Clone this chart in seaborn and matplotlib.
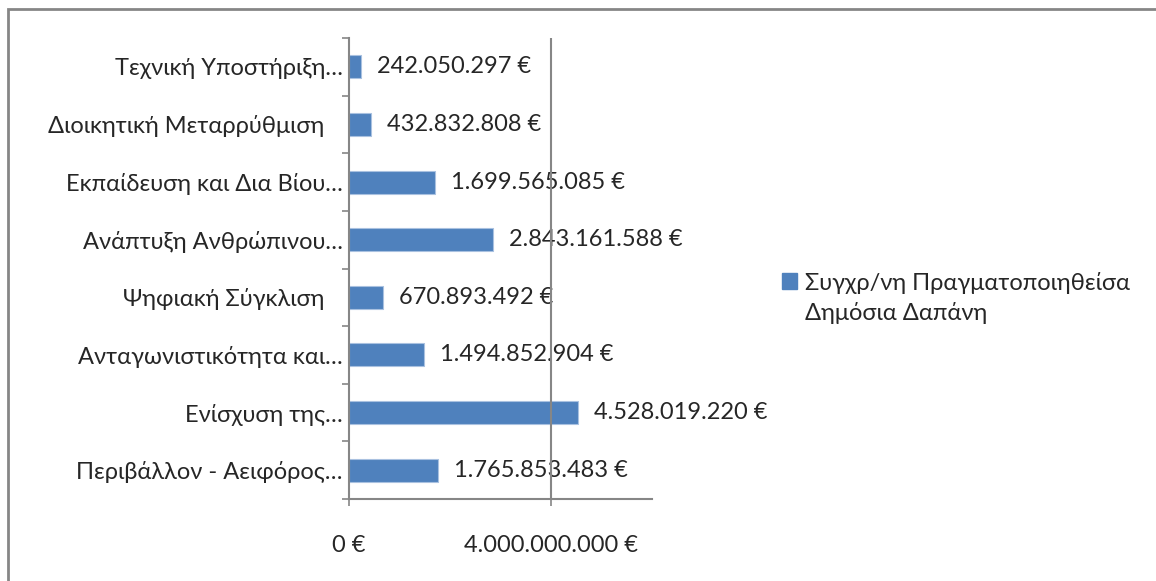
import matplotlib
matplotlib.use('Agg')
import matplotlib.pyplot as plt
import matplotlib.ticker as mticker
from matplotlib.patches import Patch, Rectangle
from matplotlib.legend_handler import HandlerPatch
import numpy as np
import pandas as pd
import seaborn as sns

categories = [
    'Τεχνική Υποστήριξη…',
    'Διοικητική Μεταρρύθμιση   ',
    'Εκπαίδευση και Δια Βίου…',
    'Ανάπτυξη Ανθρώπινου…',
    'Ψηφιακή Σύγκλιση   ',
    'Ανταγωνιστικότητα και…',
    'Ενίσχυση της…',
    'Περιβάλλον - Αειφόρος…',
]
values = [242050297, 432832808, 1699565085, 2843161588,
          670893492, 1494852904, 4528019220, 1765853483]
series_name = 'Συγχρ/νη Πραγματοποιηθείσα\nΔημόσια Δαπάνη'
x_ticks = [0, 4000000000]

BLUE = '#4F81BD'
GREY = '#868686'
FS = 17
LINESP = 1.45


def euro(v, pos=None):
    return f'{int(v):,}'.replace(',', '.') + ' €'


def top_line_patch(legend, orig_handle, xdescent, ydescent, width, height, fontsize):
    # put the square next to the first line of a two-line label
    shift = fontsize * LINESP / 2
    return Rectangle((-xdescent, -ydescent + shift), width, height)


if __name__ == '__main__':
    sns.set_style('white')
    plt.rcParams['font.family'] = ['Lato', 'Noto Sans', 'DejaVu Sans']

    df = pd.DataFrame({'category': categories, 'value': values})

    W, H = 1156, 581
    fig = plt.figure(figsize=(W / 100, H / 100), dpi=100)
    ax = fig.add_axes([349 / W, 1 - 499 / H, (652 - 349) / W, (499 - 38) / H])

    sns.barplot(data=df, x='value', y='category', orient='h', color=BLUE,
                width=0.4, saturation=1, edgecolor='#a9c1e0', linewidth=0.8,
                ax=ax, zorder=2)

    ax.set_xlim(0, 6000000000)
    ax.set_ylim(len(categories) - 0.5, -0.5)
    ax.set_xticks(x_ticks)
    ax.xaxis.set_major_formatter(mticker.FuncFormatter(euro))
    ax.set_yticks(np.arange(len(categories) + 1) - 0.5, minor=True)
    ax.tick_params(axis='y', which='major', length=0, pad=4.5, labelsize=FS)
    ax.tick_params(axis='y', which='minor', left=True, length=5, width=1.2, color=GREY)
    ax.tick_params(axis='x', which='major', bottom=True, length=5, width=1.2,
                   color=GREY, pad=21, labelsize=FS)
    ax.set_xlabel('')
    ax.set_ylabel('')

    for s in ['top', 'right']:
        ax.spines[s].set_visible(False)
    for s in ['left', 'bottom']:
        ax.spines[s].set_color(GREY)
        ax.spines[s].set_linewidth(1.5)
    ax.axvline(4000000000, color=GREY, lw=1.5, zorder=3)

    ax.bar_label(ax.containers[0], labels=[euro(v) for v in values],
                 padding=11.5, fontsize=FS, zorder=1)

    leg = fig.legend(handles=[Patch(facecolor=BLUE, edgecolor=BLUE)], labels=[series_name],
                     loc='center left', bbox_to_anchor=(782 / W, 1 - 298 / H),
                     frameon=False, fontsize=FS, handlelength=0.62, handleheight=0.62,
                     handletextpad=0.35, borderpad=0, borderaxespad=0,
                     handler_map={Patch: HandlerPatch(patch_func=top_line_patch)})
    for t in leg.get_texts():
        t.set_linespacing(LINESP)

    fig.patches.append(Rectangle((8 / W, -0.1), 2, 1.1 - 9 / H, transform=fig.transFigure,
                                 fill=False, edgecolor=GREY, lw=2))

    fig.savefig('out.png', dpi=100)
    plt.close()
